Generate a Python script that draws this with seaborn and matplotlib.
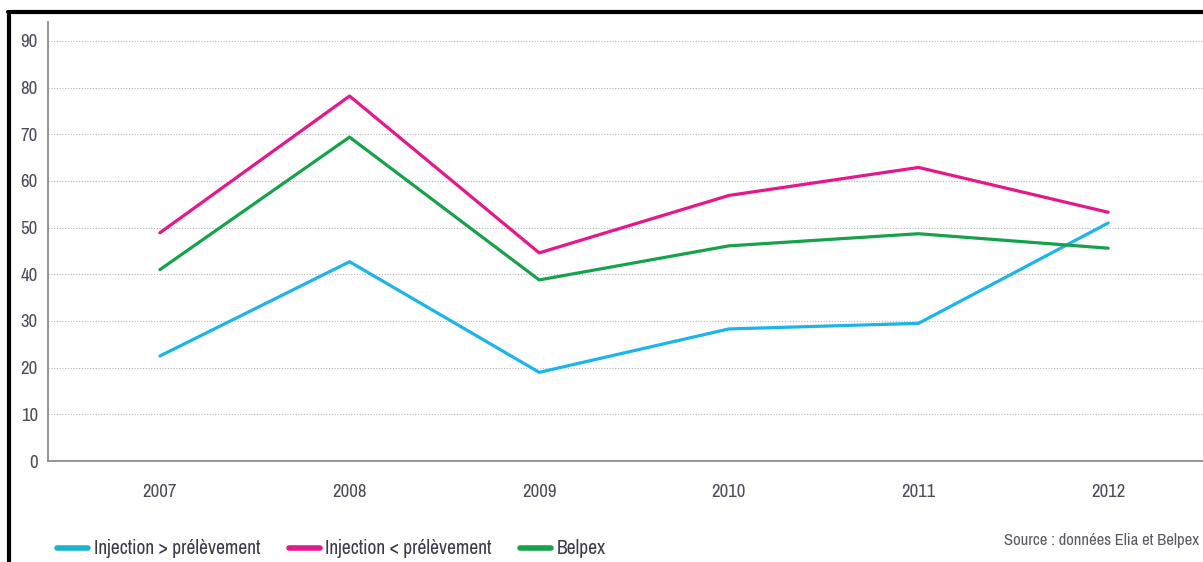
import numpy as np
import pandas as pd
import matplotlib
matplotlib.use("Agg")
import matplotlib.pyplot as plt
from matplotlib.lines import Line2D
from matplotlib import font_manager
import seaborn as sns

years = [2007, 2008, 2009, 2010, 2011, 2012]
inj_sup = [22.5, 42.7, 19.0, 28.3, 29.5, 51.0]
inj_inf = [48.9, 78.2, 44.6, 56.9, 62.9, 53.3]
belpex = [41.0, 69.4, 38.8, 46.1, 48.7, 45.6]
series_names = ["Injection > prélèvement", "Injection < prélèvement", "Belpex"]
colors = ["#1ab4ee", "#e8168a", "#14a34a"]
legend_colors = ["#17b6cc", "#e8168a", "#14a34a"]
yticks = [0, 10, 20, 30, 40, 50, 60, 70, 80, 90]
source_text = "Source : données Elia et Belpex"

df = pd.DataFrame({
    "year": years * 3,
    "value": inj_sup + inj_inf + belpex,
    "series": [series_names[0]] * 6 + [series_names[1]] * 6 + [series_names[2]] * 6,
})

sns.set_theme(style="white")
avail = {f.name for f in font_manager.fontManager.ttflist}
if "Archivo Narrow" in avail:
    plt.rcParams["font.family"] = ["Archivo Narrow", "DejaVu Sans"]
else:
    plt.rcParams["font.family"] = ["DejaVu Sans"]
    plt.rcParams["font.stretch"] = "condensed"

fig = plt.figure(figsize=(12.03, 5.62), dpi=100)
ax = fig.add_axes([0.0399, 0.1797, 0.9601, 0.7806])

sns.lineplot(data=df, x="year", y="value", hue="series", palette=colors,
             hue_order=series_names, linewidth=2.3, ax=ax, legend=False, zorder=3)

ax.set_xlim(2006.41, 2012.50)
ax.set_ylim(0, 94)
ax.set_yticks(yticks)
ax.set_xticks(years)
ax.set_yticklabels([str(v) for v in yticks], fontsize=13.5, color="#4d4d5a")
ax.set_xticklabels([str(y) for y in years], fontsize=13.5, color="#4d4d5a")
ax.tick_params(axis="y", length=0, pad=7.2)
ax.tick_params(axis="x", length=0, pad=16.5)
ax.set_xlabel("")
ax.set_ylabel("")
for v in yticks[1:]:
    ax.axhline(v, color="#b4b4b4", linestyle=(0, (1, 1.5)), linewidth=0.8, zorder=1)
for s in ["top", "right"]:
    ax.spines[s].set_visible(False)
for s in ["left", "bottom"]:
    ax.spines[s].set_color("#8c8c8c")
    ax.spines[s].set_linewidth(1.3)

handles = [Line2D([0], [0], color=c, linewidth=4) for c in legend_colors]
fig.legend(handles, series_names, loc="center left", bbox_to_anchor=(57 / 1203, 1 - 549 / 562),
           ncol=3, frameon=False, fontsize=14, handlelength=1.6, handletextpad=0.3,
           columnspacing=1.45, borderpad=0, borderaxespad=0, labelcolor="#3a3a48")

fig.text(0.9965, 1 - 541 / 562, source_text, ha="right", va="center", fontsize=12, color="#5a5a66")

fig.add_artist(Line2D([9.3 / 1203, 9.3 / 1203], [0, 1 - 11.8 / 562], color="black",
                      linewidth=3, transform=fig.transFigure))
fig.add_artist(Line2D([7.8 / 1203, 1.0], [1 - 11.8 / 562, 1 - 11.8 / 562], color="black",
                      linewidth=3, transform=fig.transFigure))

fig.savefig("out.png", dpi=100)
